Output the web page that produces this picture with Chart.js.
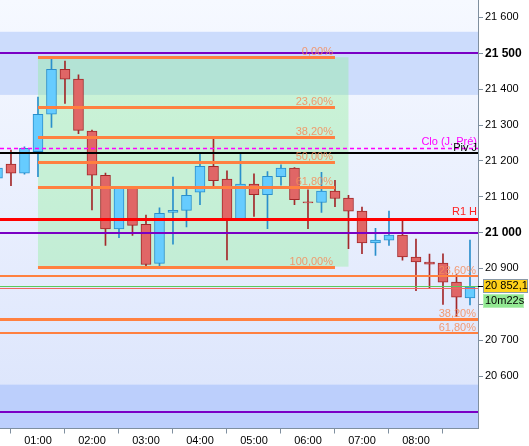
<!DOCTYPE html>
<html>
<head>
<meta charset="utf-8">
<script src="https://cdn.jsdelivr.net/npm/chart.js@4.4.1/dist/chart.umd.min.js"></script>
<style>
  html, body { margin: 0; padding: 0; background: #fff; }
</style>
</head>
<body>
<canvas id="myChart" width="529" height="446"></canvas>
<script>
// 15 min candles, time = minutes after midnight
const times = [15, 30, 45, 60, 75, 90, 105, 120, 135, 150, 165, 180, 195, 210, 225, 240, 255, 270,
  285, 300, 315, 330, 345, 360, 375, 390, 405, 420, 435, 450, 465, 480, 495, 510, 525, 540];
const opens = [21152, 21191, 21166, 21226, 21330, 21455, 21428, 21283, 21160, 21010, 21125, 21023,
  20914, 21056, 21062, 21113, 21185, 21149, 21038, 21135, 21106, 21156, 21180, 21086, 21084, 21116,
  21096, 21060, 20971, 20979, 20993, 20932, 20918, 20915, 20862, 20818];
const highs = [21186, 21230, 21239, 21378, 21484, 21478, 21440, 21286, 21166, 21128, 21127, 21049,
  21069, 21155, 21122, 21221, 21261, 21172, 21219, 21164, 21170, 21189, 21181, 21119, 21168, 21146,
  21104, 21071, 21012, 21060, 21033, 20982, 20940, 20941, 20883, 20979];
const lows = [21140, 21131, 21163, 21156, 21293, 21360, 21276, 21063, 20964, 20986, 20992, 20907,
  20907, 20968, 21016, 21078, 21128, 20924, 21036, 21045, 21011, 21132, 21078, 21011, 21056, 21072,
  20955, 20941, 20936, 20964, 20923, 20838, 20846, 20800, 20766, 20798];
const closes = [21180, 21166, 21235, 21330, 21455, 21428, 21285, 21160, 21010, 21127, 21020, 20911,
  21054, 21062, 21104, 21185, 21145, 21038, 21135, 21106, 21157, 21180, 21092, 21083, 21116, 21095,
  21060, 20971, 20979, 20993, 20932, 20918, 20912, 20862, 20820, 20848];

const xTicks = [60, 120, 180, 240, 300, 360, 420, 480];
const yTicks = [20600, 20700, 20800, 20900, 21000, 21100, 21200, 21300, 21400, 21500, 21600];
const boldTicks = [21000, 21500];

// fibonacci retracement drawn on the session
const fibLabels = ['0,00%', '23,60%', '38,20%', '50,00%', '61,80%', '100,00%'];
const fibPrices = [21489, 21350, 21266, 21196, 21128, 20905];
const fibTimes = [60, 390, 405]; // start, end of lines, end of zone

// extension lines crossing the whole chart
const extLabels = ['23,60%', '38,20%', '61,80%'];
const extPrices = [20878, 20760, 20720];

const roundLevels = [21500, 21000, 20500];
const bandRanges = [[21384, 21560], [20300, 20576]];
const pivotLabels = ['Clo (J. Pré)', 'Piv J', 'R1 H'];
const pivotPrices = [21235, 21223, 21037];

const lastPrice = 20852.1;
const prevClose = 20845;
const timerText = '10m22s';

const FONT = "'Liberation Sans', Arial, sans-serif";

const fmtPrice = (v, d = 0) => {
  const [a, b] = v.toFixed(d).split('.');
  return a.replace(/\B(?=(\d{3})+(?!\d))/g, ' ') + (b ? ',' + b : '');
};
const fmtTime = v => String(Math.floor(v / 60)).padStart(2, '0') + ':' + String(v % 60).padStart(2, '0');

const isUp = opens.map((o, i) => closes[i] >= o);

const hline = (ctx, x0, x1, py, w, color, dash) => {
  const yy = Math.round(py) + (w % 2 ? 0.5 : 0);
  ctx.beginPath();
  ctx.lineWidth = w;
  ctx.strokeStyle = color;
  ctx.setLineDash(dash || []);
  ctx.moveTo(x0, yy);
  ctx.lineTo(x1, yy);
  ctx.stroke();
  ctx.setLineDash([]);
};

// no extra padding for the first / last tick labels
const noPad = s => {
  s.paddingTop = 0;
  s.paddingBottom = 0;
  s.paddingLeft = 0;
  s.paddingRight = 0;
};

const overlayPlugin = {
  id: 'overlay',
  beforeDraw(chart) {
    const { ctx, chartArea: a, scales: { x, y } } = chart;
    ctx.save();
    ctx.beginPath();
    ctx.rect(a.left, a.top, a.right - a.left, a.bottom - a.top);
    ctx.clip();

    const g = ctx.createLinearGradient(0, a.top, 0, a.bottom);
    g.addColorStop(0, '#f6f9ff');
    g.addColorStop(1, '#dbe4fc');
    ctx.fillStyle = g;
    ctx.fillRect(a.left, a.top, a.right - a.left, a.bottom - a.top);

    // blue bands around round numbers
    ctx.fillStyle = '#ccdcfc';
    let t = y.getPixelForValue(bandRanges[0][1]);
    let b = y.getPixelForValue(bandRanges[0][0]);
    ctx.fillRect(a.left, t, a.right - a.left, b - t);
    ctx.fillStyle = '#bccffc';
    t = y.getPixelForValue(bandRanges[1][1]);
    b = y.getPixelForValue(bandRanges[1][0]);
    ctx.fillRect(a.left, t, a.right - a.left, b - t);

    // fib zone
    const zx0 = x.getPixelForValue(fibTimes[0]);
    const zx1 = x.getPixelForValue(fibTimes[2]);
    const zy0 = y.getPixelForValue(fibPrices[0]);
    const zy1 = y.getPixelForValue(fibPrices[fibPrices.length - 1]);
    ctx.fillStyle = 'rgba(140, 238, 150, 0.38)';
    ctx.fillRect(zx0, zy0, zx1 - zx0, zy1 - zy0);
    ctx.restore();
  },
  afterDatasetsDraw(chart) {
    const { ctx, chartArea: a, scales: { x, y } } = chart;
    ctx.save();
    ctx.beginPath();
    ctx.rect(a.left, a.top, a.right - a.left, a.bottom - a.top);
    ctx.clip();

    roundLevels.forEach(p => hline(ctx, a.left, a.right, y.getPixelForValue(p), 2, '#7a00c4'));

    hline(ctx, a.left, a.right, y.getPixelForValue(pivotPrices[2]), 3, '#ff0000');
    hline(ctx, a.left, a.right, y.getPixelForValue(pivotPrices[1]), 2, '#000000');
    hline(ctx, a.left, a.right, y.getPixelForValue(pivotPrices[0]), 1.5, '#ff00ff', [4, 3]);

    // fib lines
    const fx0 = x.getPixelForValue(fibTimes[0]);
    const fx1 = x.getPixelForValue(fibTimes[1]);
    ctx.font = '11px ' + FONT;
    ctx.textAlign = 'right';
    ctx.textBaseline = 'alphabetic';
    fibPrices.forEach((p, i) => {
      const py = y.getPixelForValue(p);
      hline(ctx, fx0, fx1, py, 3, '#ff8040');
      ctx.fillStyle = 'rgba(246, 140, 90, 0.85)';
      ctx.fillText(fibLabels[i], fx1 - 2, py - 2);
    });

    const extW = [2, 3, 2];
    extPrices.forEach((p, i) => {
      const py = y.getPixelForValue(p);
      hline(ctx, a.left, a.right, py, extW[i], '#ff8040');
    });
    extPrices.forEach((p, i) => {
      const py = y.getPixelForValue(p);
      ctx.fillStyle = 'rgba(246, 140, 90, 0.85)';
      ctx.fillText(extLabels[i], a.right - 2, py - 2);
    });

    hline(ctx, a.left, a.right, y.getPixelForValue(lastPrice), 1, '#5cc85c');
    hline(ctx, a.left, a.right, y.getPixelForValue(prevClose), 1, '#f06464');

    // pivot labels
    ctx.font = '11px ' + FONT;
    ctx.fillStyle = '#ff00ff';
    ctx.fillText(pivotLabels[0], a.right - 1, y.getPixelForValue(pivotPrices[0]) - 3);
    ctx.fillStyle = '#000';
    ctx.fillText(pivotLabels[1], a.right - 1, y.getPixelForValue(pivotPrices[1]) - 2);
    ctx.fillStyle = '#ff2020';
    ctx.fillText(pivotLabels[2], a.right - 1, y.getPixelForValue(pivotPrices[2]) - 4);
    ctx.restore();
  },
  afterDraw(chart) {
    const { ctx, chartArea: a, scales: { y } } = chart;
    const py = Math.round(y.getPixelForValue(lastPrice));
    ctx.save();
    ctx.font = '11px ' + FONT;
    ctx.textAlign = 'left';
    ctx.textBaseline = 'middle';
    // tick for last price
    ctx.strokeStyle = '#000';
    ctx.lineWidth = 1;
    ctx.beginPath();
    ctx.moveTo(a.right, py + 0.5);
    ctx.lineTo(a.right + 5, py + 0.5);
    ctx.stroke();

    ctx.fillStyle = '#ffd21a';
    ctx.fillRect(a.right + 5, py - 7, 45, 14);
    ctx.strokeStyle = '#8a9aa8';
    ctx.strokeRect(a.right + 5.5, py - 6.5, 44, 13);
    ctx.fillStyle = '#000';
    ctx.fillText(fmtPrice(lastPrice, 1), a.right + 7, py);

    ctx.fillStyle = '#92e892';
    ctx.fillRect(a.right + 5, py + 8, 41, 14);
    ctx.strokeStyle = '#b4f0b4';
    ctx.strokeRect(a.right + 5.5, py + 8.5, 40, 13);
    ctx.fillStyle = '#000';
    ctx.fillText(timerText, a.right + 7, py + 15);
    ctx.restore();
  },
};

const data = {
  datasets: [
    {
      label: 'body',
      data: times.map((t, i) => ({ x: t, y: [opens[i], closes[i]] })),
      backgroundColor: isUp.map(u => (u ? '#66ccff' : '#e06666')),
      borderColor: isUp.map(u => (u ? '#2a8fcc' : '#a3282a')),
      borderWidth: 1,
      borderSkipped: false,
      barThickness: 10,
      grouped: false,
      order: 0,
    },
    {
      label: 'wick',
      data: times.map((t, i) => ({ x: t, y: [lows[i], highs[i]] })),
      backgroundColor: isUp.map(u => (u ? '#2a8fcc' : '#a3282a')),
      borderWidth: 0,
      barThickness: 1,
      grouped: false,
      order: 1,
    },
  ],
};

const config = {
  type: 'bar',
  data,
  options: {
    responsive: false,
    devicePixelRatio: 1,
    animation: false,
    events: [],
    layout: { padding: 0 },
    scales: {
      x: {
        type: 'linear',
        min: 17.8,
        max: 548.9,
        offset: false,
        grid: { drawOnChartArea: false, tickLength: 5, color: '#7f8f9f' },
        border: { color: '#7f8f9f' },
        ticks: {
          autoSkip: false,
          maxRotation: 0,
          padding: 1,
          color: '#000',
          font: { family: FONT, size: 11 },
          callback: v => fmtTime(v),
        },
        afterBuildTicks: s => { s.ticks = xTicks.map(v => ({ value: v })); },
        afterFit: s => { s.height = 17.5; noPad(s); },
      },
      y: {
        position: 'right',
        min: 20453.7,
        max: 21648.6,
        grid: { drawOnChartArea: false, tickLength: 5, color: '#7f8f9f' },
        border: { color: '#7f8f9f' },
        ticks: {
          padding: 2,
          color: '#000',
          font: ctx => (ctx.tick && boldTicks.includes(ctx.tick.value)
            ? { family: FONT, size: 12, weight: 'bold' }
            : { family: FONT, size: 11 }),
          callback: v => fmtPrice(v),
        },
        afterBuildTicks: s => { s.ticks = yTicks.map(v => ({ value: v })); },
        afterFit: s => { s.width = 51; noPad(s); },
      },
    },
    plugins: {
      legend: { display: false },
      tooltip: { enabled: false },
    },
  },
  plugins: [overlayPlugin],
};

const myChart = new Chart(document.getElementById('myChart'), config);
</script>
</body>
</html>
